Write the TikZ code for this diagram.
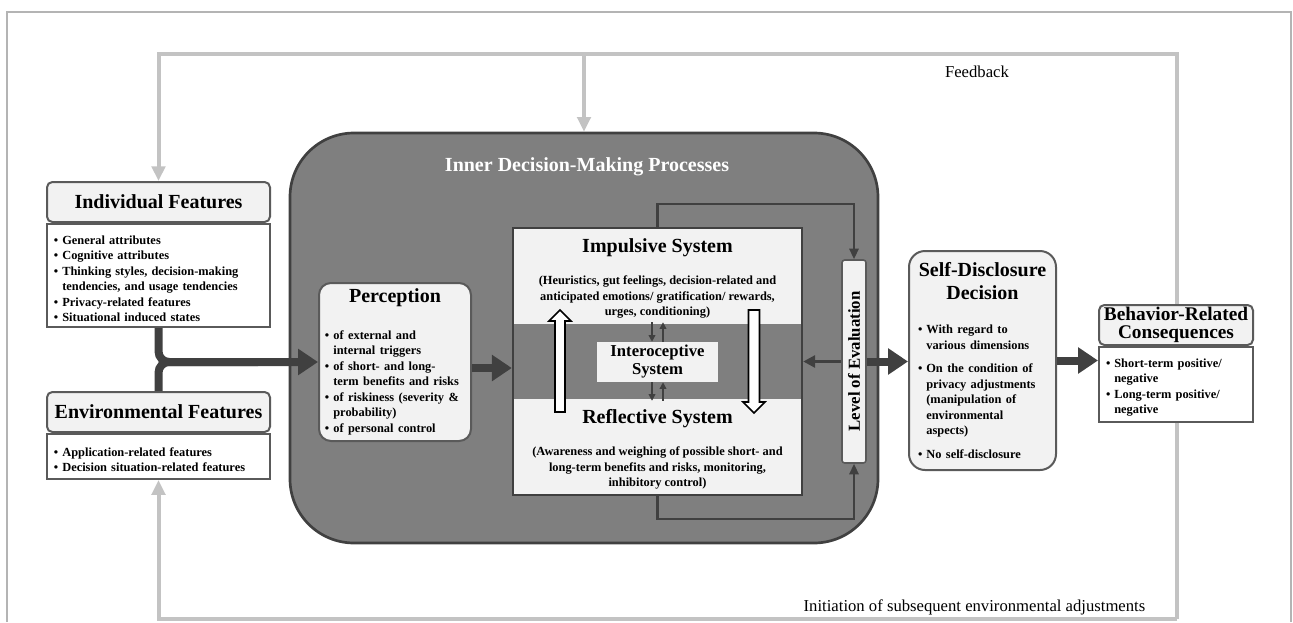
\documentclass[tikz,border=0pt]{standalone}
\usepackage{fontspec}
\setmainfont{Liberation Serif}
\usepackage{enumitem}
\usepackage{tikz}
\usetikzlibrary{
  arrows.meta,
  positioning,
  calc,
  backgrounds
}
\definecolor{FrameGray}{HTML}{B4B4B4}
\definecolor{LoopGray}{HTML}{C3C3C3}
\definecolor{DarkLine}{HTML}{404040}
\definecolor{BoxLine}{HTML}{5A5A5A}
\definecolor{BoxFill}{HTML}{F2F2F2}
\definecolor{InnerFill}{HTML}{7F7F7F}

\newdimen\pxu \pxu=0.75pt
\newcommand{\titlefont}{\fontsize{15}{15}\selectfont\bfseries}
\newcommand{\bodyfont}{\fontsize{9.3}{11.6}\selectfont\bfseries}
\newcommand{\interofont}{\fontsize{12.5}{13.5}\selectfont\bfseries}
\newcommand{\levelfont}{\fontsize{12.6}{12.6}\selectfont\bfseries}
\newcommand{\notefont}{\fontsize{12.5}{14}\selectfont}
\newlist{featlist}{itemize}{1}
\setlist[featlist]{label=\textbullet, leftmargin=7pt, labelsep=3pt, nosep}

\begin{document}
\begin{tikzpicture}[x=0.75pt, y=-0.75pt,
    headbox/.style={draw=BoxLine, fill=BoxFill, line width=1.5pt, rounded corners=4pt,
      minimum height=40\pxu, inner sep=1pt, font=\titlefont},
    bodybox/.style={draw=BoxLine, fill=white, line width=1.5pt, anchor=north,
      inner xsep=6\pxu, inner ysep=5\pxu, font=\bodyfont, align=left},
    roundbox/.style={draw=BoxLine, fill=BoxFill, line width=1.5pt, rounded corners=9pt},
    innerbox/.style={draw=DarkLine, fill=InnerFill, line width=2pt, rounded corners=48pt},
    sysbox/.style={draw=DarkLine, fill=BoxFill, line width=1.8pt},
    levelbox/.style={draw=BoxLine, fill=BoxFill, line width=1.2pt, rounded corners=2pt, inner sep=0pt},
    thickarrow/.style={draw=DarkLine, line width=6pt, -{Triangle[length=15pt, width=19pt]}},
    thickline/.style={draw=DarkLine, line width=6pt},
    looparrow/.style={draw=DarkLine, line width=1.6pt, -{Triangle[length=8pt, width=7pt]}},
    midarrow/.style={draw=DarkLine, line width=2.2pt, -{Triangle[length=9pt, width=9pt]}},
    smallarrow/.style={draw=DarkLine, line width=1.1pt, -{Triangle[length=5pt, width=5pt]}},
    hollowarrow/.style={draw=black, fill=white, line width=1.2pt},
    fbline/.style={draw=LoopGray, line width=3pt, -{Triangle[length=11pt, width=10pt]}}
  ]
  \useasboundingbox (0,0) rectangle (1293,622);

  % outer frame
  \draw[FrameGray, line width=0.8pt] (7,622) -- (7,12) -- (1291,12) -- (1291,622);

  \coordinate (fbTR) at (1177,54);
  \coordinate (fbBR) at (1177,619);

  % left features
  \node[headbox, minimum width=223\pxu] (indivhead) at (158.5,202) {Individual Features};
  \node[bodybox, text width=211\pxu] (indivbody) at (indivhead.south) {%
    \begin{featlist}
      \item General attributes
      \item Cognitive attributes
      \item Thinking styles, decision-making\\tendencies, and usage tendencies
      \item Privacy-related features
      \item Situational induced states
    \end{featlist}};

  \node[headbox, minimum width=223\pxu] (envhead) at (158.5,412) {Environmental Features};
  \node[bodybox, text width=211\pxu, inner ysep=7\pxu] (envbody) at (envhead.south) {%
    \begin{featlist}
      \item Application-related features
      \item Decision situation-related features
    \end{featlist}};

  % inner processes
  \node[innerbox, minimum width=588\pxu, minimum height=410\pxu] (inner) at (584,338) {};
  \node[font=\titlefont, text=white] (innertitle) at (587,167) {Inner Decision-Making Processes};

  \node[roundbox, text width=142\pxu, minimum height=158\pxu, inner xsep=5\pxu] (perception) at (395,362) {%
    {\centering\titlefont Perception\par}
    \vspace{21\pxu}
    {\bodyfont\raggedright
    \begin{featlist}
      \item of external and\\internal triggers
      \item of short- and long-\\term benefits and risks
      \item of riskiness (severity \&\\probability)
      \item of personal control
    \end{featlist}}};

  \node[sysbox, minimum width=289\pxu, minimum height=267\pxu] (central) at (657.5,361.5) {};
  \node[fill=InnerFill, minimum width=287\pxu, minimum height=75\pxu, inner sep=0pt] (band) at (657.5,361.5) {};
  \node[font=\titlefont] (impulsive) at (657.5,248) {Impulsive System};
  \node[font=\bodyfont, align=center] (impulsivetext) at (657.5,297) {(Heuristics, gut feelings, decision-related and\\anticipated emotions/ gratification/ rewards,\\urges, conditioning)};
  \node[font=\titlefont] (reflective) at (657.5,419) {Reflective System};
  \node[font=\bodyfont, align=center] (reflectivetext) at (657.5,468) {(Awareness and weighing of possible short- and\\long-term benefits and risks, monitoring,\\inhibitory control)};
  \node[fill=BoxFill, minimum width=121\pxu, minimum height=40\pxu, inner sep=0pt, font=\interofont, align=center] (interoceptive) at (657.5,362) {Interoceptive\\System};

  \draw[smallarrow] ([xshift=-5.5\pxu,yshift=1.5\pxu]band.north) -- ([xshift=-5.5\pxu]interoceptive.north);
  \draw[smallarrow] ([xshift=5.5\pxu]interoceptive.north) -- ([xshift=5.5\pxu,yshift=1.5\pxu]band.north);
  \draw[smallarrow] ([xshift=-5.5\pxu]interoceptive.south) -- ([xshift=-5.5\pxu,yshift=-1.5\pxu]band.south);
  \draw[smallarrow] ([xshift=5.5\pxu,yshift=-1.5\pxu]band.south) -- ([xshift=5.5\pxu]interoceptive.south);

  % up and down between the systems
  \draw[hollowarrow] (555,412) -- (555,321) -- (549,321) -- (560,310) -- (571,321) -- (565,321) -- (565,412) -- cycle;
  \draw[hollowarrow] (748.5,310) -- (748.5,402) -- (743,402) -- (754,413) -- (765,402) -- (759.5,402) -- (759.5,310) -- cycle;

  \node[levelbox, minimum width=24\pxu, minimum height=203\pxu] (level) at (854,361.5) {\rotatebox{90}{\levelfont Level of Evaluation}};

  \draw[looparrow] (central.north) -- ++(0,-23) -| (level.north);
  \draw[looparrow] (central.south) -- ++(0,23) -| (level.south);
  \draw[midarrow] (level.west) -- (central.east);

  % right side
  \node[roundbox, rounded corners=12pt, text width=131\pxu, minimum height=219\pxu, inner xsep=8\pxu] (decision) at (982.5,360.5) {%
    {\centering\fontsize{15}{17}\selectfont\bfseries Self-Disclosure\\Decision\par}
    \vspace{19\pxu}
    {\bodyfont\raggedright
    \begin{featlist}[itemsep=6pt]
      \item With regard to\\various dimensions
      \item On the condition of\\privacy adjustments\\(manipulation of\\environmental\\aspects)
      \item No self-disclosure
    \end{featlist}}};

  \node[headbox, minimum width=154\pxu, align=center, font=\fontsize{14.5}{13.5}\selectfont\bfseries] (behhead) at (1176,325) {Behavior-Related\\Consequences};
  \node[bodybox, text width=142\pxu] (behbody) at (behhead.south) {%
    \begin{featlist}
      \item Short-term positive/\\negative
      \item Long-term positive/\\negative
    \end{featlist}};

  % main flow
  \draw[thickarrow, rounded corners=8pt] (indivbody.south) |- (perception.west);
  \draw[thickline, rounded corners=8pt] (envhead.north) |- ([xshift=-60\pxu]perception.west);
  \draw[thickarrow] ([yshift=-6\pxu]perception.east) -- ([yshift=-6\pxu]perception.east -| central.west);
  \draw[thickarrow] (level.east) -- (level.east -| decision.west);
  \draw[thickarrow] (decision.east) -- (decision.east -| behbody.west);

  % feedback
  \begin{scope}[on background layer]
    \draw[fbline] (fbBR) -- (fbTR) -| (indivhead.north);
    \draw[fbline] (fbBR) -| (envbody.south);
    \draw[fbline] (inner.north |- fbTR) -- (inner.north);
  \end{scope}
  \node[font=\notefont] (feedbacklabel) at (977,72) {Feedback};
  \node[font=\notefont, anchor=east] (initiationlabel) at (1150,607) {Initiation of subsequent environmental adjustments};
\end{tikzpicture}
\end{document}
